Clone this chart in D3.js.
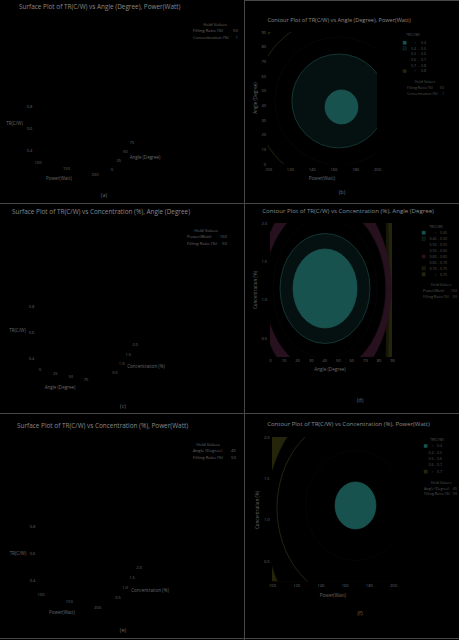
<!DOCTYPE html>
<html>
<head>
<meta charset="utf-8">
<script src="https://cdn.jsdelivr.net/npm/d3@7"></script>
<style>
  body { margin: 0; background: #000; }
  svg { display: block; }
  text { font-family: "Open Sans", sans-serif; }
</style>
</head>
<body>
<svg width="459" height="640"></svg>
<script>
// tick labels
var powerTicks = [100, 120, 140, 160, 180, 200];
var angleTicks = [0, 10, 20, 30, 40, 50, 60, 70, 80, 90];
var concTicks = [0.5, 1.0, 1.5, 2.0];
var trTicks = [0.4, 0.6, 0.8];
var surfPowerTicks = [100, 150, 200];
var surfAngleTicks = [0, 25, 50, 75];
var surfConcTicks = [0.5, 1.0, 1.5, 2.0];

// contour (b): TR vs Angle, Power  -- level boundaries as ellipses (data units)
var levelsB = [0.4, 0.5, 0.6, 0.7, 0.8];
var cxB = [167.4, 165, 165, 165, 165];
var cyB = [38.9, 43, 43, 43, 43];
var rxB = [15.1, 43.1, 58.7, 77, 89];
var ryB = [11.6, 32, 43.6, 57.3, 66];

// contour (d): TR vs Concentration, Angle
var levelsD = [0.45, 0.50, 0.55, 0.60, 0.65, 0.70, 0.75];
var cxD = [40.6, 40.6, 40.6, 40.6, 40.6, 40.6, 40.6];
var cyD = [1.145, 1.145, 1.145, 1.145, 1.145, 1.145, 1.145];
var rxD = [23.6, 33.2, 38.4, 44.8, 48.7, 45.7, 47.6];
var ryD = [0.516, 0.718, 0.914, 1.096, 1.306, 5.2, 5.2];

// contour (f): TR vs Concentration, Power
var levelsF = [0.4, 0.5, 0.6, 0.7];
var cxF = [169, 169, 169, 169];
var cyF = [1.171, 1.171, 1.14, 1.013];
var rxF = [16.9, 41.3, 64.9, 75];
var ryF = [0.285, 0.666, 1.126, 1.506];

var teal = "#18524f", tealEdge = "#1c5653", darkTeal = "#051110", darkTealEdge = "#1a4644";
var mag = "#28111f", yel = "#25250b", yelDim = "#161608", yelLine = "#34341a";

var titleCol = "#8a8a8a", tickCol = "#6a6a6a", legCol = "#565656";

var svg = d3.select("svg");

function label(g, x, y, txt, size, color, anchor) {
  return g.append("text")
    .attr("x", x).attr("y", y).attr("dy", "0.35em")
    .attr("font-size", size).attr("fill", color)
    .attr("text-anchor", anchor || "middle")
    .text(txt);
}

// panel dividers
var grid = svg.append("g").attr("stroke", "#474747").attr("stroke-width", 1);
grid.append("line").attr("x1", 244.5).attr("y1", 0).attr("x2", 244.5).attr("y2", 640);
grid.append("line").attr("x1", 244).attr("y1", 0.5).attr("x2", 459).attr("y2", 0.5);
[203.5, 413.5, 638.5].forEach(function(yy) {
  grid.append("line").attr("x1", 0).attr("y1", yy).attr("x2", 459).attr("y2", yy);
});

function holdBlock(g, cx, y0, left, right, rows, size, color) {
  label(g, cx, y0, "Hold Values", size, color);
  rows.forEach(function(r, i) {
    var yy = y0 + (i + 1) * (size * 1.55);
    label(g, left, yy, r[0], size, color, "start");
    label(g, right, yy, r[1], size, color, "end");
  });
}

// ---------- surface plots ----------
function surfacePanel(c) {
  var g = svg.append("g");
  label(g, c.titleX, c.titleY, c.title, 6.4, titleCol, "start");
  holdBlock(g, c.holdC, c.holdY, c.holdL, c.holdR, c.hold, 4.3, tickCol);

  var z = d3.scaleLinear().domain([0.4, 0.8]).range(c.zRange);
  trTicks.forEach(function(t) { label(g, c.zX, z(t), d3.format(".1f")(t), 4, tickCol); });
  label(g, c.zTitle[0], c.zTitle[1], "TR(C/W)", 4.5, tickCol);

  c.axes.forEach(function(a) {
    var sx = d3.scaleLinear().domain(a.domain).range(a.xr);
    var sy = d3.scaleLinear().domain(a.domain).range(a.yr);
    a.ticks.forEach(function(t) { label(g, sx(t), sy(t), a.fmt(t), 4, tickCol); });
    label(g, a.title[0], a.title[1], a.name, 4.5, tickCol);
  });
  label(g, c.tag[0], c.tag[1], c.tagText, 5.5, tickCol);
}

var fmt0 = d3.format("d"), fmt1 = d3.format(".1f");

surfacePanel({
  title: "Surface Plot of TR(C/W) vs Angle (Degree), Power(Watt)", titleX: 19, titleY: 7,
  holdC: 215, holdY: 24, holdL: 193, holdR: 238,
  hold: [["Filling Ratio (%)", "50"], ["Concentration (%)", "1"]],
  zRange: [151, 107], zX: 29.5, zTitle: [14.5, 123],
  axes: [
    {name: "Power(Watt)", domain: [100, 200], xr: [38, 95], yr: [163, 175], ticks: surfPowerTicks, fmt: fmt0, title: [59, 178]},
    {name: "Angle (Degree)", domain: [0, 75], xr: [112, 132], yr: [170, 143], ticks: surfAngleTicks, fmt: fmt0, title: [145, 157]}
  ],
  tag: [104, 195], tagText: "(a)"
});

surfacePanel({
  title: "Surface Plot of TR(C/W) vs Concentration (%), Angle (Degree)", titleX: 12, titleY: 212,
  holdC: 206, holdY: 230, holdL: 187, holdR: 227,
  hold: [["Power(Watt)", "150"], ["Filling Ratio (%)", "50"]],
  zRange: [359, 307], zX: 31.5, zTitle: [17.5, 330],
  axes: [
    {name: "Angle (Degree)", domain: [0, 75], xr: [40, 86], yr: [370, 380], ticks: surfAngleTicks, fmt: fmt0, title: [60, 387]},
    {name: "Concentration (%)", domain: [0.5, 2.0], xr: [115, 135], yr: [373, 345], ticks: surfConcTicks, fmt: fmt1, title: [146, 366]}
  ],
  tag: [123, 406], tagText: "(c)"
});

surfacePanel({
  title: "Surface Plot of TR(C/W) vs Concentration (%), Power(Watt)", titleX: 17, titleY: 426,
  holdC: 208, holdY: 444, holdL: 193, holdR: 236,
  hold: [["Angle (Degree)", "45"], ["Filling Ratio (%)", "50"]],
  zRange: [581, 527], zX: 32.5, zTitle: [18, 553],
  axes: [
    {name: "Power(Watt)", domain: [100, 200], xr: [41, 97.5], yr: [595, 608], ticks: surfPowerTicks, fmt: fmt0, title: [62, 612]},
    {name: "Concentration (%)", domain: [0.5, 2.0], xr: [118, 139], yr: [598, 568], ticks: surfConcTicks, fmt: fmt1, title: [150, 590]}
  ],
  tag: [123, 630], tagText: "(e)"
});

// ---------- contour plots ----------
function contourPanel(c) {
  var g = svg.append("g");
  var x = d3.scaleLinear().domain(c.xDomain).range(c.xRange);
  var y = d3.scaleLinear().domain(c.yDomain).range(c.yRange);

  label(g, c.titleX, c.titleY, c.title, c.titleSize, titleCol);

  g.append("clipPath").attr("id", "clip" + c.id).append("rect")
    .attr("x", c.xRange[0]).attr("y", c.yRange[1])
    .attr("width", c.xRange[1] - c.xRange[0]).attr("height", c.yRange[0] - c.yRange[1]);
  var plot = g.append("g").attr("clip-path", "url(#clip" + c.id + ")");
  plot.append("rect")
    .attr("x", c.xRange[0]).attr("y", c.yRange[1])
    .attr("width", c.xRange[1] - c.xRange[0]).attr("height", c.yRange[0] - c.yRange[1])
    .attr("fill", c.bands[c.levels.length]);
  for (var i = c.levels.length - 1; i >= 0; i--) {
    plot.append("ellipse")
      .attr("cx", x(c.cx[i])).attr("cy", y(c.cy[i]))
      .attr("rx", x(c.cx[i] + c.rx[i]) - x(c.cx[i]))
      .attr("ry", y(c.cy[i]) - y(c.cy[i] + c.ry[i]))
      .attr("fill", c.bands[i])
      .attr("stroke", c.edges[i]).attr("stroke-width", 0.7);
  }

  var ax = g.append("g").attr("transform", "translate(0," + (c.xLabY - 1.4) + ")")
    .call(d3.axisBottom(x).tickValues(c.xTicks).tickSize(0).tickPadding(0).tickFormat(c.xFmt));
  var ay = g.append("g").attr("transform", "translate(" + c.yLabX + ",0)")
    .call(d3.axisLeft(y).tickValues(c.yTicks).tickSize(0).tickPadding(0).tickFormat(c.yFmt));
  [ax, ay].forEach(function(a) {
    a.select(".domain").remove();
    a.attr("font-size", 4).attr("font-family", '"Open Sans", sans-serif');
    a.selectAll("text").attr("fill", tickCol);
  });

  label(g, c.xTitle[0], c.xTitle[1], c.xName, 4.6, tickCol);
  label(g, 0, 0, c.yName, 4.6, tickCol)
    .attr("transform", "translate(" + c.yTitle[0] + "," + c.yTitle[1] + ") rotate(-90)");
  label(g, c.tag[0], c.tag[1], c.tagText, 5.5, tickCol);

  // legend
  var L = c.legend, n = c.levels.length;
  label(g, L.titleX, L.titleY, "TR(C/W)", 3.8, legCol);
  for (var k = 0; k <= n; k++) {
    var yy = L.y0 + k * L.step;
    g.append("rect").attr("x", L.sx).attr("y", yy - 1.6).attr("width", 3.2).attr("height", 3.2)
      .attr("fill", c.bands[k]).attr("stroke", c.swEdges[k]).attr("stroke-width", 0.4);
    if (k === 0) {
      label(g, L.lowEnd, yy, "<", 3.6, legCol, "end");
      label(g, L.upStart, yy, c.legFmt(c.levels[0]), 3.6, legCol, "start");
    } else if (k === n) {
      label(g, L.lowEnd, yy, ">", 3.6, legCol, "end");
      label(g, L.upStart, yy, c.legFmt(c.levels[n - 1]), 3.6, legCol, "start");
    } else {
      label(g, L.lowEnd, yy, c.legFmt(c.levels[k - 1]), 3.6, legCol, "end");
      label(g, L.dash, yy, "-", 3.6, legCol);
      label(g, L.upStart, yy, c.legFmt(c.levels[k]), 3.6, legCol, "start");
    }
  }
  holdBlock(g, L.holdC, L.holdY, L.holdL, L.holdR, c.hold, 3.7, legCol);
}

contourPanel({
  id: "b", title: "Contour Plot of TR(C/W) vs Angle (Degree), Power(Watt)",
  titleX: 339, titleY: 20.5, titleSize: 5.6,
  xDomain: [100, 200], xRange: [268, 377], yDomain: [0, 90], yRange: [164, 32],
  xTicks: powerTicks, yTicks: angleTicks, xFmt: fmt0, yFmt: fmt0,
  xLabY: 170, yLabX: 266,
  xName: "Power(Watt)", xTitle: [322, 178], yName: "Angle (Degree)", yTitle: [255, 98],
  tag: [342, 192], tagText: "(b)",
  levels: levelsB, cx: cxB, cy: cyB, rx: rxB, ry: ryB,
  bands: [teal, darkTeal, "#000", "#000", "#000", yel],
  edges: [tealEdge, darkTealEdge, "#0a0a0a", yelLine, yel],
  swEdges: [teal, darkTealEdge, "#000", "#000", "#000", yel],
  legFmt: fmt1,
  legend: {titleX: 413, titleY: 35, sx: 403, y0: 42.7, step: 5.7, lowEnd: 416, dash: 418.5, upStart: 421,
           holdC: 425, holdY: 82, holdL: 407, holdR: 444},
  hold: [["Filling Ratio (%)", "50"], ["Concentration (%)", "1"]]
});

contourPanel({
  id: "d", title: "Contour Plot of TR(C/W) vs Concentration (%), Angle (Degree)",
  titleX: 348, titleY: 211, titleSize: 6.1,
  xDomain: [0, 90], xRange: [270, 392], yDomain: [0.25, 2.0], yRange: [357, 223],
  xTicks: angleTicks, yTicks: concTicks, xFmt: fmt0, yFmt: fmt1,
  xLabY: 361, yLabX: 267,
  xName: "Angle (Degree)", xTitle: [330, 369], yName: "Concentration (%)", yTitle: [255, 290],
  tag: [360, 400], tagText: "(d)",
  levels: levelsD, cx: cxD, cy: cyD, rx: rxD, ry: ryD,
  bands: [teal, darkTeal, "#000", "#000", mag, "#000", yelDim, yel],
  edges: [tealEdge, darkTealEdge, "#080808", "#1e0d18", mag, "#1e1e0c", yel],
  swEdges: [teal, darkTealEdge, "#000", "#000", mag, "#000", "#2c2c0e", yel],
  legFmt: d3.format(".2f"),
  legend: {titleX: 436, titleY: 227, sx: 422, y0: 232.7, step: 5.95, lowEnd: 436.5, dash: 438.3, upStart: 440,
           holdC: 441, holdY: 285, holdL: 423, holdR: 457},
  hold: [["Power(Watt)", "150"], ["Filling Ratio (%)", "50"]]
});

contourPanel({
  id: "f", title: "Contour Plot of TR(C/W) vs Concentration (%), Power(Watt)",
  titleX: 348.5, titleY: 424, titleSize: 6.0,
  xDomain: [100, 200], xRange: [272, 393], yDomain: [0.25, 2.0], yRange: [581.5, 437],
  xTicks: powerTicks, yTicks: concTicks, xFmt: fmt0, yFmt: fmt1,
  xLabY: 586, yLabX: 269.5,
  xName: "Power(Watt)", xTitle: [333, 595], yName: "Concentration (%)", yTitle: [257, 510],
  tag: [360, 613], tagText: "(f)",
  levels: levelsF, cx: cxF, cy: cyF, rx: rxF, ry: ryF,
  bands: [teal, "#000", "#000", "#000", yel],
  edges: [tealEdge, "#080808", yelLine, yel],
  swEdges: [teal, "#000", "#000", "#000", yel],
  legFmt: fmt1,
  legend: {titleX: 437, titleY: 439.3, sx: 424, y0: 446, step: 6.4, lowEnd: 433.5, dash: 435.3, upStart: 437,
           holdC: 441, holdY: 482.7, holdL: 424, holdR: 457},
  hold: [["Angle (Degree)", "45"], ["Filling Ratio (%)", "50"]]
});
</script>
</body>
</html>
